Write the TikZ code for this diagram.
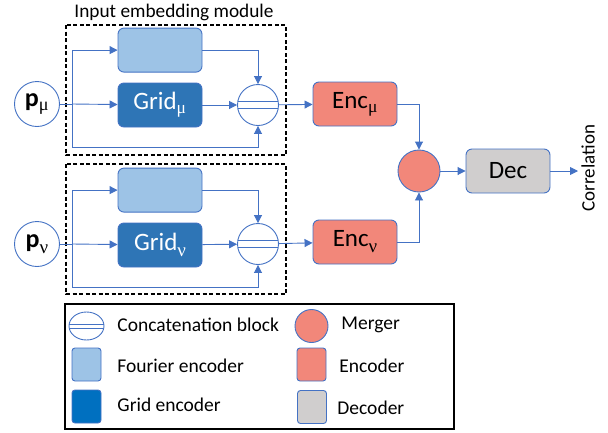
\documentclass[tikz,border=0pt]{standalone}
\usepackage{fontspec}
\setmainfont{Carlito}
\newfontfamily\grk{Liberation Serif}
\usetikzlibrary{positioning,arrows.meta,shapes.geometric}

\definecolor{lblue}{HTML}{4472C4}
\definecolor{fourier}{HTML}{9DC3E6}
\definecolor{gridblue}{HTML}{2E75B6}
\definecolor{gridleg}{HTML}{0070C0}
\definecolor{salmon}{HTML}{F2877A}
\definecolor{decgray}{HTML}{D0CECE}

\newcommand{\smu}{\textsubscript{\grk μ}}
\newcommand{\snu}{\raisebox{-6pt}{\grk\fontsize{19}{20}\selectfont ν}}

\begin{document}
\begin{tikzpicture}[x=1pt,y=-1pt,>={Triangle[length=8pt,width=8pt]},line width=0.9pt,
    box/.style={rectangle,rounded corners=6pt,draw=lblue,minimum width=84pt,minimum height=44pt,inner sep=0pt,font=\fontsize{25}{28}\selectfont},
    fourier node/.style={box,fill=fourier},
    grid node/.style={box,fill=gridblue,text=white},
    enc node/.style={box,fill=salmon},
    dec node/.style={box,fill=decgray},
    in node/.style={circle,draw=lblue,fill=white,minimum size=45pt,inner sep=0pt,font=\fontsize{26}{28}\selectfont},
    merge node/.style={circle,draw=lblue,fill=salmon,minimum size=42pt,inner sep=0pt},
    chords/.style={path picture={
        \draw[lblue] ([yshift=#1]path picture bounding box.west) -- ([yshift=#1]path picture bounding box.east);
        \draw[lblue] ([yshift=-#1]path picture bounding box.west) -- ([yshift=-#1]path picture bounding box.east);}},
    concat node/.style={circle,draw=lblue,fill=white,minimum size=41pt,inner sep=0pt,chords=3.5pt},
    module/.style={black,line width=1.2pt,dash pattern=on 4pt off 2.5pt},
    leg text/.style={anchor=west,inner sep=0pt,font=\fontsize{19.5}{22}\selectfont},
    leg box/.style={rectangle,rounded corners=3pt,draw=lblue,minimum width=29pt,minimum height=33pt,inner sep=0pt}]
    \useasboundingbox (0,0) rectangle (608,432);

    % upper input embedding
    \node[in node] (p1) at (37,104) {\textbf{p}\smu};
    \node[grid node] (g1) at (160,105) {Grid\smu};
    \node[fourier node] (f1) [above=10pt of g1] {};
    \node[concat node] (c1) at (258,105) {};
    \coordinate (s1) at (72,104);
    \coordinate (b1) at (72,147);
    \node[font=\fontsize{19.3}{22}\selectfont] (t1) at (174,12) {Input embedding module};
    \draw[module] (66,25) rectangle (286,155);

    % lower input embedding
    \node[in node] (p2) at (37,244) {\textbf{p}\snu};
    \node[grid node] (g2) at (160,245) {Grid\snu};
    \node[fourier node] (f2) [above=10pt of g2] {};
    \node[concat node] (c2) at (258,244) {};
    \coordinate (s2) at (72,244);
    \coordinate (b2) at (72,287);
    \draw[module] (66,164) rectangle (286,294);

    % encoders, merger, decoder
    \node[enc node] (e1) at (355,104) {Enc\smu};
    \node[enc node] (e2) at (355,242) {Enc\snu};
    \node[merge node] (m) at (419,171) {};
    \node[dec node] (d) at (508,171) {Dec};
    \coordinate (out) at (578,171);
    \node[rotate=90,font=\fontsize{19}{22}\selectfont] (corr) at (588,168) {Correlation};

    \draw[lblue] (p1) -- (s1);
    \draw[lblue,->] (s1) -- (g1);
    \draw[lblue,->] (s1) |- (f1);
    \draw[lblue,->] (s1) -- (b1) -| (c1.south);
    \draw[lblue,->] (f1) -| (c1.north);
    \draw[lblue,->] (g1) -- (c1);
    \draw[lblue,->] (c1) -- (e1);

    \draw[lblue] (p2) -- (s2);
    \draw[lblue,->] (s2) -- (g2);
    \draw[lblue,->] (s2) |- (f2);
    \draw[lblue,->] (s2) -- (b2) -| (c2.south);
    \draw[lblue,->] (f2) -| (c2.north);
    \draw[lblue,->] (g2) -- (c2);
    \draw[lblue,->] (c2) -- (e2);

    \draw[lblue,->] (e1) -| (m.north);
    \draw[lblue,->] (e2) -| (m.south);
    \draw[lblue,->] (m) -- (d);
    \draw[lblue,->] (d) -- (out);

    % legend
    \draw[black,line width=1.2pt] (65,304) rectangle (454,429);
    \node[ellipse,draw=lblue,fill=white,minimum width=35pt,minimum height=28pt,inner sep=0pt,chords=2pt] (l1) at (86.5,326) {};
    \node[leg box,fill=fourier] (l2) at (86.5,364.5) {};
    \node[leg box,fill=gridleg] (l3) at (86.5,406.5) {};
    \node[circle,draw=lblue,fill=salmon,minimum size=33pt,inner sep=0pt] (l4) at (311.5,326) {};
    \node[leg box,fill=salmon] (l5) at (311.5,364.5) {};
    \node[leg box,fill=decgray] (l6) at (312,407) {};
    \node[leg text] (lt1) at (117,325) {Concatenation block};
    \node[leg text] (lt2) at (117,366) {Fourier encoder};
    \node[leg text] (lt3) at (117,405) {Grid encoder};
    \node[leg text] (lt4) at (341,325) {Merger};
    \node[leg text] (lt5) at (339,366) {Encoder};
    \node[leg text] (lt6) at (337,408) {Decoder};
\end{tikzpicture}
\end{document}
